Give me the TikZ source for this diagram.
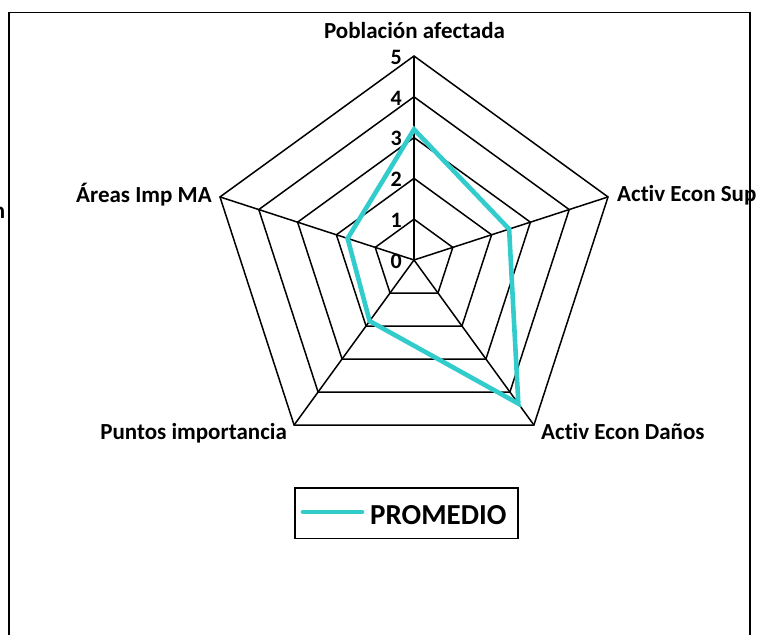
\documentclass[tikz,border=0pt]{standalone}
\usepackage{fontspec}
\setmainfont[Ligatures=NoCommon]{Carlito}
\definecolor{promedio}{RGB}{51,204,204}
\tikzset{
  grid line/.style={black,line width=1.5bp},
  serie/.style={promedio,line width=4.6bp},
  axis label/.style={inner sep=0pt,font=\fontsize{23bp}{27bp}\selectfont\bfseries},
  tick label/.style={inner sep=0pt,anchor=base east,font=\fontsize{22bp}{26bp}\selectfont\bfseries},
}
\begin{document}
\begin{tikzpicture}[line join=miter,]
\useasboundingbox (0bp,0bp) rectangle (777bp,635bp);
%% frame
\draw [grid line] (9bp,0bp) -- (9bp,622.5bp) -- (750bp,622.5bp) -- (750bp,0bp);
%% radar grid
\begin{scope}[shift={(414bp,375bp)}]
  \coordinate (ctr) at (0bp,0bp);
  \foreach \k in {1,...,5}
    \draw [grid line] (90:{\k*40.8bp}) -- (18:{\k*40.8bp}) -- (-54:{\k*40.8bp}) -- (-126:{\k*40.8bp}) -- (162:{\k*40.8bp}) -- cycle;
  \coordinate (ax_0) at (90:204bp);
  \coordinate (ax_1) at (18:204bp);
  \coordinate (ax_2) at (-54:204bp);
  \coordinate (ax_3) at (-126:204bp);
  \coordinate (ax_4) at (162:204bp);
  \draw [grid line] (ctr) -- (ax_0);
  \draw [grid line] (ctr) -- (ax_1);
  \draw [grid line] (ctr) -- (ax_2);
  \draw [grid line] (ctr) -- (ax_3);
  \draw [grid line] (ctr) -- (ax_4);
%
  \node (tick_0) at (-12bp,-8.3bp) [tick label] {0};
  \node (tick_1) at (-12bp,32.5bp) [tick label] {1};
  \node (tick_2) at (-12bp,73.3bp) [tick label] {2};
  \node (tick_3) at (-12bp,114.1bp) [tick label] {3};
  \node (tick_4) at (-12bp,154.9bp) [tick label] {4};
  \node (tick_5) at (-12bp,195.7bp) [tick label] {5};
%% serie PROMEDIO
  \coordinate (pt_0) at (90:130.6bp);
  \coordinate (pt_1) at (18:100bp);
  \coordinate (pt_2) at (-54:177.5bp);
  \coordinate (pt_3) at (-126:75.5bp);
  \coordinate (pt_4) at (162:69.8bp);
  \draw [serie] (pt_0) -- (pt_1) -- (pt_2) -- (pt_3) -- (pt_4) -- cycle;
\end{scope}
%% axis labels
\node (lbl_0) at (414.5bp,596.7bp) [axis label,anchor=base] {Población afectada};
\node (lbl_1) at (617bp,433.3bp) [axis label,anchor=base west] {Activ Econ Sup};
\node (lbl_2) at (541bp,195.6bp) [axis label,anchor=base west] {Activ Econ Daños};
\node (lbl_3) at (287bp,195.6bp) [axis label,anchor=base east] {Puntos importancia};
\node (lbl_4) at (212bp,432bp) [axis label,anchor=base east] {Áreas Imp MA};
\node (lbl_cut) at (5.5bp,416bp) [axis label,anchor=base east] {n};
%% legend
\node (leg_box) at (406.5bp,121.6bp) [draw,line width=1.5bp,minimum width=223bp,minimum height=50.7bp] {};
\coordinate (leg_a) at (303bp,123bp);
\coordinate (leg_b) at (362bp,123bp);
\draw [serie,line cap=round] (leg_a) -- (leg_b);
\node (leg_txt) at (370bp,110bp) [inner sep=0pt,anchor=base west,font=\fontsize{29bp}{33bp}\selectfont\bfseries] {PROMEDIO};
%
\end{tikzpicture}
\end{document}
